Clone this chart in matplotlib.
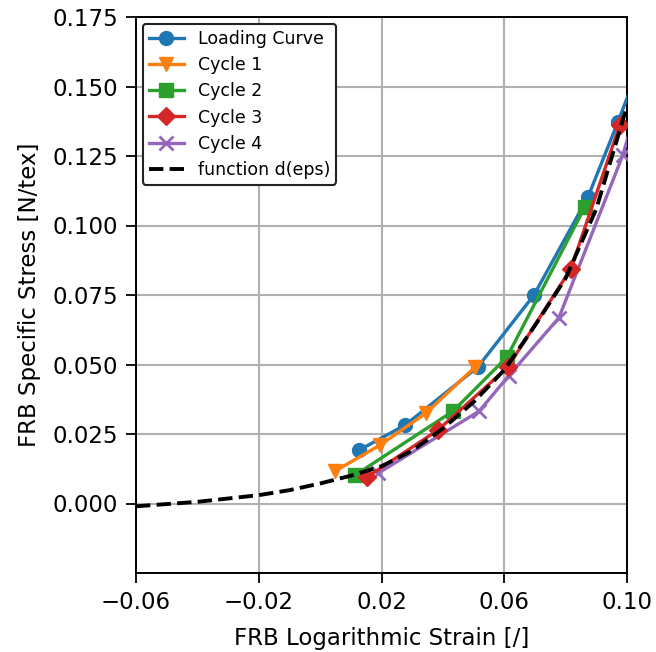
import matplotlib
matplotlib.use("Agg")
import matplotlib.pyplot as plt

# ---- data ----
loading_x = [0.0127, 0.0277, 0.0514, 0.0697, 0.0873, 0.0971, 0.1070]
loading_y = [0.0192, 0.0282, 0.0491, 0.0750, 0.1103, 0.1374, 0.1660]

cycle1_x = [0.0048, 0.0195, 0.0345, 0.0505]
cycle1_y = [0.0116, 0.0210, 0.0325, 0.0491]

cycle2_x = [0.0114, 0.0433, 0.0609, 0.0863]
cycle2_y = [0.0102, 0.0332, 0.0527, 0.1067]

cycle3_x = [0.0153, 0.0384, 0.0612, 0.0817, 0.0977]
cycle3_y = [0.0095, 0.0264, 0.0491, 0.0844, 0.1363]

cycle4_x = [0.0189, 0.0518, 0.0615, 0.0778, 0.0987, 0.1050]
cycle4_y = [0.0109, 0.0332, 0.0460, 0.0668, 0.1255, 0.1500]

func_x = [-0.06, -0.04, -0.02, -0.01, 0.0, 0.01, 0.02, 0.03, 0.04, 0.05,
          0.06, 0.07, 0.08, 0.09, 0.10]
func_y = [-0.0010, 0.0006, 0.0030, 0.0048, 0.0072, 0.0100, 0.0134, 0.0190,
          0.0270, 0.0365, 0.0480, 0.0640, 0.0810, 0.1060, 0.1430]

x_ticks = [-0.06, -0.02, 0.02, 0.06, 0.10]
x_ticklabels = ["\u22120.06", "\u22120.02", "0.02", "0.06", "0.10"]
y_ticks = [0.0, 0.025, 0.05, 0.075, 0.1, 0.125, 0.15, 0.175]
y_ticklabels = ["0.000", "0.025", "0.050", "0.075", "0.100", "0.125", "0.150", "0.175"]

fig = plt.figure(figsize=(6.56, 6.52), dpi=100)
ax = fig.add_axes([136/656, 1-573/652, (627-136)/656, (573-17)/652])

lw = 2.4
ms = 10
ax.plot(loading_x, loading_y, color="#1f77b4", marker="o", lw=lw, ms=ms, label="Loading Curve", zorder=3)
ax.plot(cycle1_x, cycle1_y, color="#ff7f0e", marker="v", lw=lw, ms=ms, label="Cycle 1", zorder=3)
ax.plot(cycle2_x, cycle2_y, color="#2ca02c", marker="s", lw=lw, ms=ms-0.5, label="Cycle 2", zorder=3)
ax.plot(cycle4_x, cycle4_y, color="#9467bd", marker="x", lw=lw, ms=ms, mew=2, label="Cycle 4", zorder=3)
ax.plot(cycle3_x, cycle3_y, color="#d62728", marker="D", lw=lw, ms=ms-1, label="Cycle 3", zorder=3)
ax.plot(func_x, func_y, color="black", ls="--", lw=2.8, label="function d(eps)", zorder=4)

ax.set_xlim(-0.06, 0.10)
ax.set_ylim(-0.025, 0.175)
ax.set_xticks(x_ticks)
ax.set_xticklabels(x_ticklabels)
ax.set_yticks(y_ticks)
ax.set_yticklabels(y_ticklabels)
ax.tick_params(labelsize=16.5, length=7, width=1.3, pad=6)
ax.grid(True, color="#b0b0b0", lw=1.5)
ax.set_axisbelow(True)
for s in ax.spines.values():
    s.set_linewidth(1.4)

ax.set_xlabel("FRB Logarithmic Strain [/]", fontsize=16.5, labelpad=9)
ax.set_ylabel("FRB Specific Stress [N/tex]", fontsize=16.5, labelpad=8)

handles, labels = ax.get_legend_handles_labels()
order = [0, 1, 2, 4, 3, 5]
leg = ax.legend([handles[i] for i in order], [labels[i] for i in order],
                loc="upper left", fontsize=12.5, frameon=True, fancybox=True,
                edgecolor="#222222", framealpha=1.0, borderpad=0.35,
                labelspacing=0.47, handlelength=2.0, borderaxespad=0.4)
leg.get_frame().set_linewidth(1.5)

fig.savefig("out.png", dpi=100)
